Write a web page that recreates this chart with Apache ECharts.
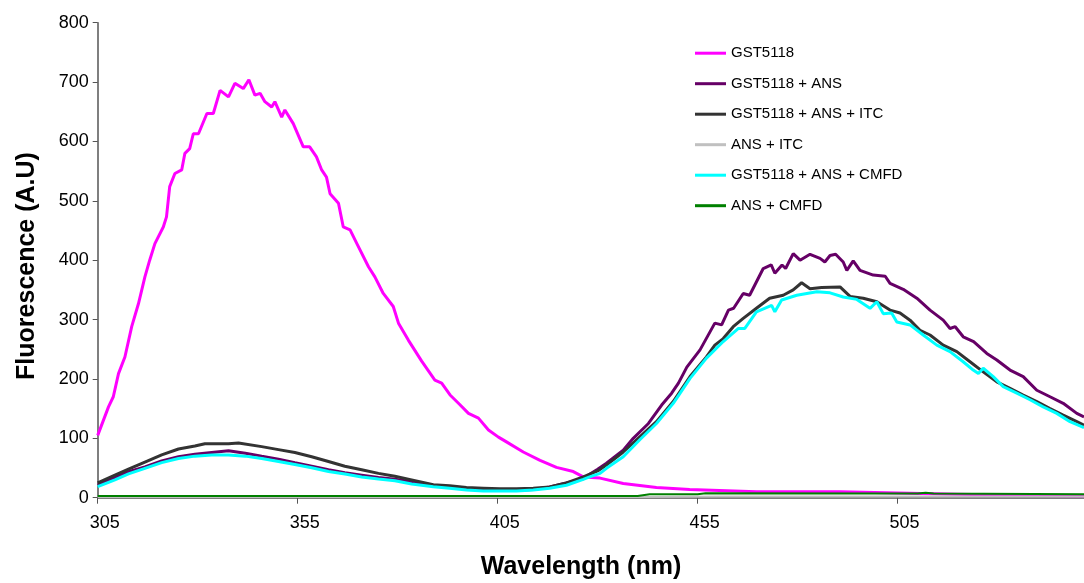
<!DOCTYPE html>
<html>
<head>
<meta charset="utf-8">
<title>Fluorescence</title>
<script src="https://cdn.jsdelivr.net/npm/echarts@6/dist/echarts.min.js"></script>
<style>
    html, body {margin: 0; padding: 0; background: #fff;}
    #chart {width: 1084px; height: 583px;}
</style>
</head>
<body>
<div id="chart"></div>
<script>
// tick labels on the wavelength axis
var xTicks = [305, 355, 405, 455, 505];

// GST5118
var gstNm = [305,307.7,308.9,310.2,311.8,313.5,315.2,316.8,318,319.3,321.4,322.2,323,324.3,326,326.8,328,328.9,330.2,332.3,333.9,335.6,337.7,339.3,341.4,342.8,344.3,345.6,346.8,348.5,349.3,351,351.8,353.9,356.4,358,359.7,361,362.2,363.1,365.2,366.4,368.1,369.8,372.7,374.3,376.4,378.9,380.2,382.7,386,389.3,391,393.1,395.2,397.7,400.2,402.7,405.2,407.2,411.4,415.6,419.7,423.9,426.4,430.6,436.4,444.7,453,469.7,490.6,505,520,535,551.6];
var gstVal = [105,153,170,209,237,288,327,372,400,428,456,473,524,546,552,580,588,613,613,647,647,686,675,698,689,704,678,681,667,658,667,641,653,630,591,591,574,552,540,512,496,456,451,428,389,372,344,322,294,265,230,198,193,173,159,142,134,114,102,94,77,63,51,44,35,33,24,17,14,10,10,8,6,4,3];

// GST5118 + ANS
var ansNm = [305,309.3,312.7,316.8,321,325.2,329.3,333.5,337.7,341.9,346,350.2,354.3,358.5,362.7,366.8,371,375.2,379.3,383.5,388.9,393,397.2,401.4,405.6,409.7,413.9,418,422.2,426.4,428.1,430,432.2,436.4,438.9,442.7,446,448.5,450.2,452.3,455.6,459.3,461,462.7,464,466.4,468,471.4,473.4,474.3,476.1,477,478.9,480.6,483.1,485.6,486.8,488.1,489.5,491.4,492.3,493.9,495.6,498.9,501.9,503.1,506.4,509.8,513.1,516.4,518.1,519.4,521.4,524,527.3,529.8,533.1,536.4,539.8,543.1,546.4,549.8,551.6];
var ansVal = [21,34,44,52,62,69,73,76,79,75,70,65,59,53,47,42,38,34,31,27,21,18,15,13,12.5,12.5,14,18,25,32,40,48,58,80,100,125,156,176,193,220,249,294,291,316,319,344,341,386,392,378,392,386,411,400,410,403,397,408,410,397,383,399,383,375,373,361,351,336,316,299,285,288,271,263,243,232,215,204,181,170,159,142,136];

// GST5118 + ANS + ITC
var itcNm = [305,309.3,312.7,316.8,321,325.2,329.3,331.8,337.7,340.2,346,350.2,354.3,358.5,362.7,366.8,371,375.2,379.3,383.5,388.9,393,397.2,401.4,405.6,409.7,413.9,418,422.2,426.4,430,432.2,436.4,440.6,444.7,448.9,453.1,457.2,459.3,461.4,463.9,466.4,469.7,473,476.4,478.9,481,483.1,486,490.6,493.1,496.4,499.8,503.1,505.6,508.1,510.6,513.1,516.4,519.8,523.1,526.4,529.8,533.1,536.4,539.8,543.1,546.4,549.8,551.6];
var itcVal = [25,38,48,60,72,82,87,91,91,92,86,81,76,69,61,53,47,41,36,30,22,20,17,16,15,15,16,18,25,35,45,55,77,103,128,162,204,237,257,268,288,302,319,336,341,350,362,352,354,355,339,336,330,316,311,299,282,274,257,246,229,212,195,184,173,162,150,139,128,122];

// ANS + ITC
var ansItcNm = [305,340,380,420,440,460,500,530,551.6];
var ansItcVal = [1,1,1,1,1,2,2,2,2];

// GST5118 + ANS + CMFD
var cmfdNm = [305,309.3,312.7,316.8,321,325.2,329.3,333.5,337.7,341.9,346,350.2,354.3,358.5,362.7,366.8,371,375.2,379.3,383.5,388.9,393,397.2,401.4,405.6,409.7,413.9,418,422.2,426.4,428,430.6,432.2,436.4,440.6,444.7,448.9,453.1,457.2,461.4,465.2,466.8,469.7,473.5,474.3,476,479.8,484.8,488.1,491.4,494.8,498.1,499.8,501.4,503.5,504.8,508.1,511.4,514.8,518.1,521.4,523.9,525.2,526.4,528.9,531.4,534.8,538.1,541.4,544.8,548.1,551.6];
var cmfdVal = [18.5,30,40,49.5,59,66,70,72,72,70,66,61,56,50.5,44,40,35,31.5,28.6,23,18.5,16,13,11.3,11.3,11.3,13,16,21,31,35,41,49.5,69,98,125,159,201,235,263,285,285,313,324,313,333,341,347,345,338,334,319,330,310,311,296,291,274,257,246,229,215,209,218,204,187,176,165,153,142,128,118];

// ANS + CMFD
var ansCmfdNm = [305,440,443,455,457,500,510,512,514,551.6];
var ansCmfdVal = [3,3,6,6,7.5,7,7,8.5,7,6];

function pairs(xs, ys) {
    var out = [];
    for (var i = 0; i < xs.length; i++) out.push([xs[i], ys[i]]);
    return out;
}

var font = 'Arial, "Liberation Sans", sans-serif';
var chart = echarts.init(document.getElementById('chart'));

function line(name, color, width, xs, ys) {
    return {
        name: name,
        type: 'line',
        symbol: 'none',
        smooth: false,
        lineStyle: {color: color, width: width},
        itemStyle: {color: color},
        data: pairs(xs, ys)
    };
}

var option = {
    animation: false,
    backgroundColor: '#fff',
    grid: {left: 97.7, top: 22.7, right: 0, bottom: 85.3},
    legend: {
        orient: 'vertical',
        left: 695,
        top: 45.7,
        padding: 0,
        icon: 'rect',
        itemWidth: 31,
        itemHeight: 3,
        itemGap: 15.5,
        textStyle: {fontFamily: font, fontSize: 15, color: '#000', lineHeight: 14},
        data: ['GST5118', 'GST5118 + ANS', 'GST5118 + ANS + ITC', 'ANS + ITC', 'GST5118 + ANS + CMFD', 'ANS + CMFD']
    },
    xAxis: {
        type: 'value',
        min: 305,
        max: 551.6,
        splitLine: {show: false},
        axisLine: {lineStyle: {color: '#555', width: 1.5}},
        axisTick: {show: true, length: 6, inside: false, customValues: xTicks, lineStyle: {color: '#555'}},
        axisLabel: {
            customValues: xTicks,
            margin: 16,
            padding: [0, 0, 0, 14],
            fontFamily: font,
            fontSize: 18,
            color: '#000'
        }
    },
    yAxis: {
        type: 'value',
        min: 0,
        max: 800,
        interval: 100,
        splitLine: {show: false},
        axisLine: {show: true, lineStyle: {color: '#555', width: 1.5}},
        axisTick: {show: true, length: 5, lineStyle: {color: '#555'}},
        axisLabel: {margin: 9, fontFamily: font, fontSize: 18, color: '#000'}
    },
    graphic: [
        {
            type: 'text',
            x: 581, y: 567,
            style: {text: 'Wavelength (nm)', fontFamily: font, fontWeight: 'bold', fontSize: 25, fill: '#000', align: 'center', verticalAlign: 'middle'}
        },
        {
            type: 'text',
            x: 27, y: 266,
            rotation: Math.PI / 2,
            style: {text: 'Fluorescence (A.U)', fontFamily: font, fontWeight: 'bold', fontSize: 25, fill: '#000', align: 'center', verticalAlign: 'middle'}
        }
    ],
    series: [
        line('GST5118', '#ff00ff', 3, gstNm, gstVal),
        line('GST5118 + ANS', '#660066', 3, ansNm, ansVal),
        line('GST5118 + ANS + ITC', '#333333', 3, itcNm, itcVal),
        line('ANS + ITC', '#c0c0c0', 2, ansItcNm, ansItcVal),
        line('GST5118 + ANS + CMFD', '#00ffff', 3, cmfdNm, cmfdVal),
        line('ANS + CMFD', '#008000', 2, ansCmfdNm, ansCmfdVal)
    ]
};
chart.setOption(option);
</script>
</body>
</html>
